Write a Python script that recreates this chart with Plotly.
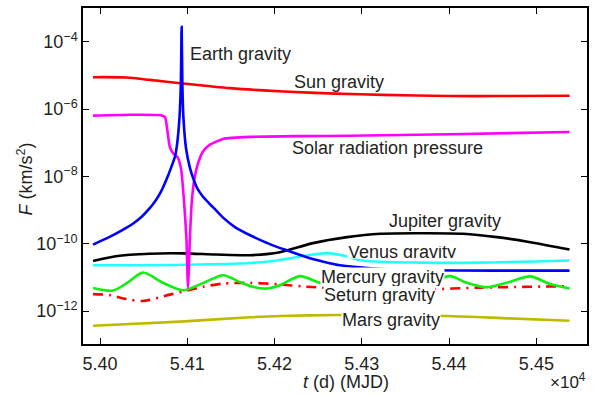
import plotly.graph_objects as go

# Time axis values are MJD days; forces are in km/s^2.

t_sun = [53992, 54030, 54057, 54092, 54149, 54210, 54270, 54324, 54400, 54460, 54538]
f_sun = [8.9e-6, 8.7e-6, 7.4e-6, 5.9e-6, 4.2e-6, 3.35e-6, 2.9e-6, 2.65e-6, 2.45e-6, 2.45e-6, 2.5e-6]

t_srp = [53992, 54034, 54070, 54074.5, 54077, 54080, 54084, 54089, 54093, 54096.5, 54099,
         54100.8, 54103, 54105, 54108, 54112.6, 54118, 54126, 54141, 54172, 54229, 54286,
         54401, 54538]
f_srp = [6.4e-7, 6.8e-7, 6.6e-7, 5.8e-7, 2.5e-7, 7.5e-8, 4.8e-8, 3.7e-8, 1.6e-8, 1.5e-9, 1.5e-10,
         5e-12, 1.5e-10, 1.6e-9, 8e-9, 2.6e-8, 5.5e-8, 8.8e-8, 1.3e-7, 1.5e-7, 1.58e-7, 1.62e-7,
         1.8e-7, 2.1e-7]

t_earth = [53992, 54011, 54025, 54038, 54048, 54057, 54063, 54070, 54076, 54082, 54086, 54088.5,
           54091, 54092.6, 54093.5, 54094.4, 54095.6, 54098.5, 54103, 54107, 54112, 54118,
           54125, 54132, 54141, 54155, 54172, 54198, 54215, 54237, 54255, 54275,
           54313, 54367, 54450, 54538]
f_earth = [9.5e-11, 1.6e-10, 2.5e-10, 4e-10, 6.5e-10, 1.15e-9, 1.8e-9, 3.6e-9, 8e-9, 2.0e-8, 4e-8, 1.0e-7,
           5.4e-7, 5.4e-6, 2.8e-4, 5e-6, 5.4e-7, 7e-8, 1.8e-8, 8.5e-9, 4.2e-9, 2.5e-9,
           1.6e-9, 1.05e-9, 6e-10, 3.1e-10, 1.8e-10, 9e-11, 6.3e-11, 4e-11, 3.0e-11, 2.3e-11,
           1.86e-11, 1.65e-11, 1.6e-11, 1.6e-11]

t_jup = [53992, 54018, 54057, 54095, 54133, 54172, 54206, 54244, 54283, 54321, 54367,
         54416, 54455, 54493, 54538]
f_jup = [3.1e-11, 4.3e-11, 5.1e-11, 5.2e-11, 4.8e-11, 4.6e-11, 5.6e-11, 1.05e-10, 1.58e-10,
         2.0e-10, 2.07e-10, 2.0e-10, 1.58e-10, 1.12e-10, 6.8e-11]

t_ven = [53992, 54100, 54172, 54198, 54237, 54260, 54280, 54300, 54367, 54435, 54538]
f_ven = [2.3e-11, 2.4e-11, 2.7e-11, 3.1e-11, 4.5e-11, 5.3e-11, 4.4e-11, 3.2e-11, 2.76e-11,
         2.76e-11, 3.2e-11]

t_mer = [53992, 54015, 54032, 54049, 54072, 54095, 54118, 54141, 54160, 54175, 54191, 54206,
         54229, 54249, 54275, 54296, 54317, 54339, 54361, 54381, 54401, 54420, 54443, 54468,
         54493, 54515, 54538]
f_mer = [4.9e-12, 4.1e-12, 7.2e-12, 1.4e-11, 7.0e-12, 4.2e-12, 6.8e-12, 1.17e-11, 7.4e-12,
         5.3e-12, 4.7e-12, 5.9e-12, 1.1e-11, 7.4e-12, 4.5e-12, 6.6e-12, 1.1e-11, 6.9e-12,
         4.6e-12, 7.4e-12, 1.1e-11, 7.0e-12, 5.1e-12, 7.2e-12, 1.08e-11, 6.5e-12, 4.7e-12]

t_sat = [53992, 54011, 54030, 54049, 54080, 54095, 54118, 54141, 54172, 54206, 54237,
         54300, 54367, 54435, 54538]
f_sat = [3.2e-12, 3.0e-12, 2.3e-12, 2.0e-12, 3.1e-12, 3.8e-12, 5.3e-12, 6.6e-12, 6.9e-12,
         6.3e-12, 5.3e-12, 4.6e-12, 4.4e-12, 5.0e-12, 5.5e-12]

t_mars = [53992, 54092, 54172, 54206, 54271, 54317, 54397, 54469, 54538]
f_mars = [3.7e-13, 4.9e-13, 6.6e-13, 7.2e-13, 7.7e-13, 7.7e-13, 7.2e-13, 6.1e-13, 5.2e-13]

x_tick_vals = [54000, 54100, 54200, 54300, 54400, 54500]
x_tick_text = ["5.40", "5.41", "5.42", "5.43", "5.44", "5.45"]
y_tick_vals = [1e-12, 1e-10, 1e-8, 1e-6, 1e-4]
y_tick_text = ["10<sup>\u221212</sup>", "10<sup>\u221210</sup>", "10<sup>\u22128</sup>",
               "10<sup>\u22126</sup>", "10<sup>\u22124</sup>"]

FONT = "Arial, 'Liberation Sans', sans-serif"
TXT = "#231f20"
LW = 2.6

fig = go.Figure()


def add_line(t, f, color, smoothing=0.8, dash="solid"):
    fig.add_trace(go.Scatter(
        x=t, y=f, mode="lines",
        line=dict(color=color, width=LW, shape="spline", dash=dash, smoothing=smoothing),
        hoverinfo="skip", showlegend=False))


add_line(t_mars, f_mars, "#bfba00")
add_line(t_sat, f_sat, "#ff0000", dash="10px,6px,2px,6px")
add_line(t_mer, f_mer, "#11ee11")
add_line(t_ven, f_ven, "#22ffff")
add_line(t_jup, f_jup, "#000000")
add_line(t_sun, f_sun, "#ff0000")
add_line(t_srp, f_srp, "#ff00ff", smoothing=0.5)
add_line(t_earth, f_earth, "#0000ff", smoothing=0.5)

# Curve labels: (text, x in MJD, log10 of y, white box height or None)
labels = [
    ("Earth gravity", 54102, -4.354, None),
    ("Sun gravity", 54221, -5.18, None),
    ("Solar radiation pressure", 54219, -7.14, None),
    ("Jupiter gravity", 54330, -9.31, None),
    ("Venus gravity", 54283, -10.23, 12),
    ("Seturn gravity", 54255, -11.52, 18),
    ("Mercury gravity", 54252, -10.99, 18),
    ("Mars gravity", 54276, -12.26, 20),
]
for text, lx, ly, h in labels:
    ann = dict(text=text, x=lx, y=ly, xref="x", yref="y", xanchor="left", yanchor="middle",
               showarrow=False, font=dict(family=FONT, size=18, color=TXT), borderpad=0)
    if h is not None:
        ann.update(bgcolor="white", height=h)
    fig.add_annotation(**ann)

fig.add_annotation(text="<i>t</i> (d) (MJD)", x=0.522, y=-0.112, xref="paper", yref="paper",
                   xanchor="center", yanchor="middle", showarrow=False,
                   font=dict(family=FONT, size=18, color=TXT))
fig.add_annotation(text="\u00d710<sup>4</sup>", x=1.002, y=-0.111, xref="paper", yref="paper",
                   xanchor="right", yanchor="middle", showarrow=False,
                   font=dict(family=FONT, size=17, color=TXT))
fig.add_annotation(text="<i>F</i> (km/s<sup>2</sup>)", x=-0.115, y=0.49, xref="paper", yref="paper",
                   xanchor="center", yanchor="middle", textangle=-90, showarrow=False,
                   font=dict(family=FONT, size=18, color=TXT))

axis_common = dict(showgrid=False, zeroline=False, showline=True, linecolor="#000000", linewidth=1.5,
                   mirror="ticks", ticks="inside", ticklen=6, tickwidth=1.3, tickcolor="#000000",
                   tickfont=dict(family=FONT, size=18, color=TXT))

fig.update_xaxes(range=[53980.5, 54558], tickmode="array", tickvals=x_tick_vals, ticktext=x_tick_text,
                 ticklabelstandoff=3, **axis_common)
fig.update_yaxes(type="log", range=[-12.975, -2.996], tickmode="array", tickvals=y_tick_vals,
                 ticktext=y_tick_text, **axis_common)

fig.update_layout(width=596, height=396, margin=dict(l=83, r=9, t=6, b=52),
                  paper_bgcolor="white", plot_bgcolor="white", showlegend=False)

fig.write_html("out.html", config={"displayModeBar": False})
